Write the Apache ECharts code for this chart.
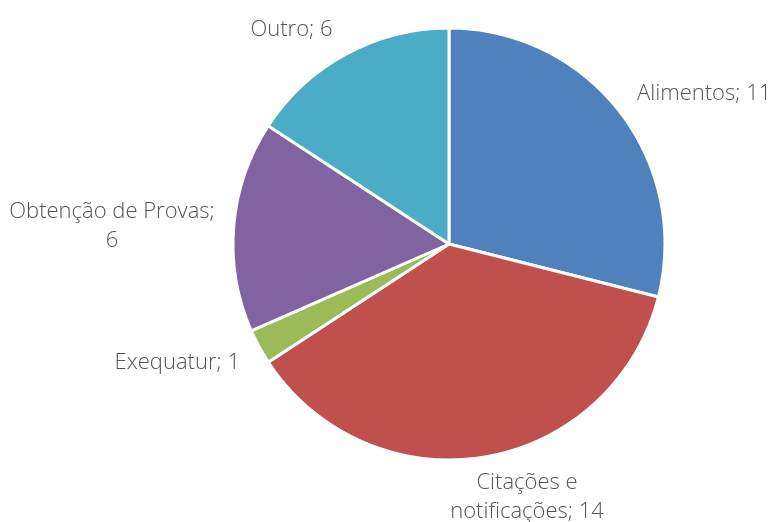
<!DOCTYPE html>
<html>
<head>
<meta charset="utf-8">
<script src="https://cdn.jsdelivr.net/npm/echarts@6/dist/echarts.min.js"></script>
<style>
  html, body { margin: 0; padding: 0; background: #fff; }
  #main { width: 773px; height: 522px; }
</style>
</head>
<body>
<div id="main"></div>
<script>
const categories = ["Alimentos", "Citações e notificações", "Exequatur", "Obtenção de Provas", "Outro"];
const values = [11, 14, 1, 6, 6];
const labelText = ["Alimentos; 11", "Citações e\nnotificações; 14", "Exequatur; 1", "Obtenção de Provas;\n6", "Outro; 6"];
const colors = ["#4F81BD", "#C0504D", "#9BBB59", "#8064A2", "#4BACC6"];
// nudge of each label from where echarts puts it
const labelNudge = [[0, -8], [-42, 24], [0, 8], [2, 1], [-1, -10]];

const chart = echarts.init(document.getElementById("main"));
const option = {
  animation: false,
  series: [
    {
      type: "pie",
      center: [449, 244],
      radius: 216,
      startAngle: 90,
      clockwise: true,
      avoidLabelOverlap: false,
      itemStyle: {
        borderColor: "#fff",
        borderWidth: 3
      },
      label: {
        show: true,
        position: "outside",
        formatter: p => labelText[p.dataIndex],
        color: "#555555",
        fontFamily: "Open Sans",
        fontWeight: 300,
        fontSize: 22,
        lineHeight: 29
      },
      labelLine: { show: false, length: 16, length2: 0 },
      labelLayout: p => {
        const r = p.labelRect;
        const n = labelNudge[p.dataIndex];
        return {
          x: r.x + r.width / 2 + n[0],
          y: r.y + r.height / 2 + n[1],
          align: "center",
          verticalAlign: "middle"
        };
      },
      emphasis: { disabled: true },
      data: categories.map((c, i) => ({
        name: c,
        value: values[i],
        itemStyle: { color: colors[i] }
      }))
    }
  ]
};
chart.setOption(option);
</script>
</body>
</html>
